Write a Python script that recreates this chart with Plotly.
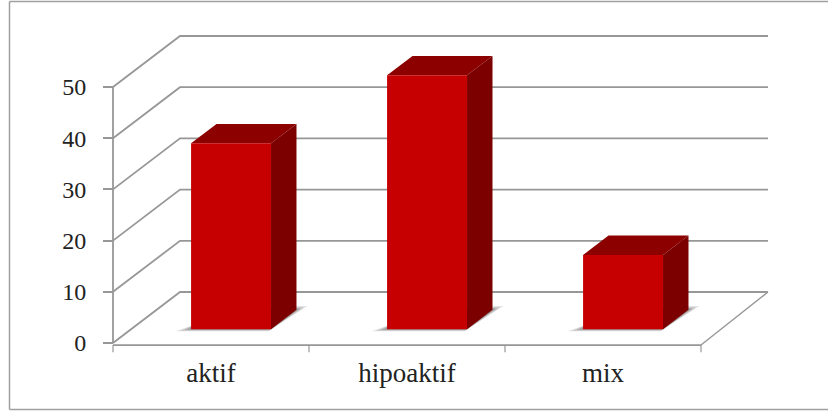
import plotly.graph_objects as go

categories = ["aktif", "hipoaktif", "mix"]
values = [36.3, 49.6, 14.5]
y_ticks = [0, 10, 20, 30, 40, 50]

W, H = 828, 413
X0_PX, Y0_PX = 113, 343
CAT_PX, UNIT_PX = 196, 5.12
DX, DY = 67 / CAT_PX, 51 / UNIT_PX     # full depth offset in data units
BAR_L, BAR_R = 0.306, 0.714
D0, D1 = 0.27, 0.65
GRID = "#979797"
FONT = "Liberation Serif"


def P(x, v, d=0.0):
    return x + d * DX, v + d * DY


def poly(points, fill, line="rgba(0,0,0,0)", width=0):
    xs = [p[0] for p in points] + [points[0][0]]
    ys = [p[1] for p in points] + [points[0][1]]
    return go.Scatter(x=xs, y=ys, mode="lines", fill="toself", fillcolor=fill,
                      line=dict(color=line, width=width), hoverinfo="skip", showlegend=False)


def line(points, color=GRID, width=1.8):
    return go.Scatter(x=[p[0] for p in points], y=[p[1] for p in points], mode="lines",
                      line=dict(color=color, width=width), hoverinfo="skip", showlegend=False)


n = len(categories)
fig = go.Figure()

# floor and walls
for t in y_ticks:
    fig.add_trace(line([P(0, t), P(0, t, 1), P(n, t, 1)]))
fig.add_trace(line([P(n, 0, 1), P(n, -0.4)], width=1.4))
# axes
fig.add_trace(line([P(0, y_ticks[0]), P(0, y_ticks[-1])]))
AXIS_DROP = 0.4
fig.add_trace(line([P(0, -AXIS_DROP), P(n, -AXIS_DROP)]))
for i in range(n + 1):
    fig.add_trace(line([P(i, -AXIS_DROP), P(i, -AXIS_DROP - 1.4)], width=1.2))

# bars
for i, v in enumerate(values):
    l, r = i + BAR_L, i + BAR_R
    # soft floor shadow, layered from wide and pale to narrow and dark
    for g, alpha in ((1.0, 0.18), (0.7, 0.24), (0.4, 0.28), (0.15, 0.32)):
        fig.add_trace(poly([P(l - 0.066 * g, 0, D0 - 0.04 * g), P(r, 0, D0 - 0.04 * g),
                            P(r + 0.03 * g, 0, D1 + 0.075 * g), P(r - 0.03, 0, D1 + 0.075 * g),
                            P(l, 0, D0 + 0.12)],
                           f"rgba(105,100,100,{alpha})"))
    fig.add_trace(poly([P(l, v, D0), P(r, v, D0), P(r, v, D1), P(l, v, D1)], "#8C0000"))
    fig.add_trace(poly([P(r, 0, D0), P(r, v, D0), P(r, v, D1), P(r, 0, D1)], "#7C0000"))
    fig.add_trace(poly([P(l, 0, D0), P(r, 0, D0), P(r, v, D0), P(l, v, D0)], "#C60000"))

BORDER = dict(color="#A0A0A0", width=1.5)
fig.update_layout(
    width=W, height=H, margin=dict(l=0, r=0, t=0, b=0),
    paper_bgcolor="white", plot_bgcolor="white", showlegend=False,
    font=dict(family=FONT, color="#222222"),
    xaxis=dict(range=[-X0_PX / CAT_PX, (W - X0_PX) / CAT_PX], showgrid=False, zeroline=False,
               anchor="free", position=(H - 345) / H, tickmode="array",
               tickvals=[i + 0.5 for i in range(n)], ticktext=categories,
               ticks="outside", ticklen=0, tickwidth=0, ticklabelstandoff=4,
               tickfont=dict(size=27, family=FONT, color="#222222")),
    yaxis=dict(range=[-(H - Y0_PX) / UNIT_PX, Y0_PX / UNIT_PX], showgrid=False, zeroline=False,
               anchor="free", position=X0_PX / W, tickmode="array", tickvals=y_ticks,
               ticks="outside", ticklen=10, tickwidth=1.5, tickcolor=GRID, ticklabelstandoff=12,
               tickfont=dict(size=24, family=FONT, color="#222222")),
    shapes=[
        dict(type="line", xref="paper", yref="paper", x0=9.5 / W, x1=1, y0=(H - 1.5) / H, y1=(H - 1.5) / H, line=BORDER),
        dict(type="line", xref="paper", yref="paper", x0=9.5 / W, x1=1, y0=(H - 409.5) / H, y1=(H - 409.5) / H, line=BORDER),
        dict(type="line", xref="paper", yref="paper", x0=9.5 / W, x1=9.5 / W, y0=(H - 409.5) / H, y1=(H - 1.5) / H, line=BORDER),
    ],
)

fig.write_html("out.html", post_script="document.body.style.margin='0';",
               config=dict(displayModeBar=False))
